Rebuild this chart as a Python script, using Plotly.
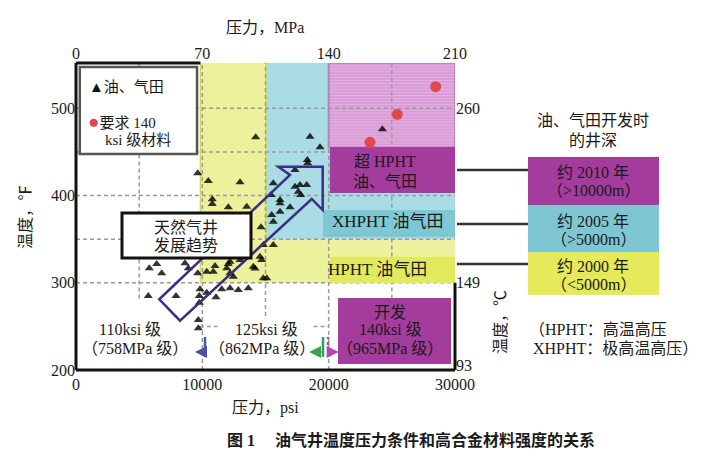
import plotly.graph_objects as go

# ---------------- data ----------------
# oil & gas fields (pressure psi, temperature F)
field_psi = [9634, 10473, 12982, 10789, 10789, 12056, 13513, 14645, 15619, 16149,
             16149, 15436, 16940, 15491, 15619, 16149, 17336, 18310, 18340, 17336,
             17732, 18262, 17598, 17788, 14827, 15619, 14565, 14700, 14170, 14827,
             14225, 18524, 19315, 24250,
             5802, 6388, 6784, 8628, 8889, 9634, 5723, 7916, 9761, 9761, 9682, 9682,
             10346, 10869, 11003, 11930, 12056, 12191, 12191, 12982, 14035, 12452, 15096,
             9816, 10346, 11082, 11534, 12191, 12848, 13640]
field_F = [425.5, 416.7, 415.2, 395.7, 390.3, 386.5, 387.2, 363.6, 414.1, 394.9,
           391.1, 400.6, 386.5, 377.7, 370.0, 381.5, 429.3, 440.8, 437.0, 410.2,
           412.1, 412.1, 404.4, 400.6, 343.3, 343.3, 329.9, 326.1, 316.5, 305.1,
           466.8, 467.5, 455.3, 476.0,
           316.6, 321.5, 310.9, 322.3, 316.6, 310.9, 284.8, 284.8, 284.8, 277.2, 257.3, 247.8,
           312.7, 312.7, 319.2, 316.6, 321.5, 310.9, 324.2, 326.1, 318.4, 307.0, 305.1,
           292.5, 288.6, 283.3, 292.5, 293.7, 291.7, 293.7]
# fields requiring 140 ksi material
req_psi = [28470, 25430, 23270]
req_F = [524.8, 493.2, 461.1]

x_tick_psi = [0, 10000, 20000, 30000]
x_tick_mpa = [0, 70, 140, 210]
y_tick_F = [200, 300, 400, 500]
y2_tick_F = [205, 300, 500]
y2_tick_labels = ["93", "149", "260"]

X_RANGE = [0, 30000]
Y_RANGE = [200, 552]

# trend arrow outline (psi, F)
arrow_psi = [6594, 16940, 16014, 19528, 19528, 18658, 8232]
arrow_F = [281.1, 423.6, 433.1, 433.1, 383.4, 396.1, 256.5]

FONT = "Liberation Serif, Noto Sans CJK SC, serif"
W, H = 707, 465
L, R, T, B = 76, 252, 63, 95
PW, PH = W - L - R, H - T - B


def P(px, py):
    return (px - L) / PW, (H - B - py) / PH


def F2C(f):
    return (f - 32) / 1.8


fig = go.Figure()
fig.add_trace(go.Scatter(x=field_psi, y=field_F, mode="markers",
                         marker=dict(symbol="triangle-up", size=8, color="#000000", opacity=0.8),
                         showlegend=False, hoverinfo="skip"))
fig.add_trace(go.Scatter(x=req_psi, y=req_F, mode="markers",
                         marker=dict(symbol="circle", size=11, color="#E2474C"),
                         showlegend=False, hoverinfo="skip"))
fig.add_trace(go.Scatter(x=[], y=[], xaxis="x2", yaxis="y2", showlegend=False))

shapes = []


def rect(x0, x1, y0, y1, fill, line=None, lw=0, layer="below", ref="data"):
    d = dict(type="rect", x0=x0, x1=x1, y0=y0, y1=y1, fillcolor=fill, layer=layer,
             line=dict(width=lw, color=line or fill))
    if ref == "paper":
        d.update(xref="paper", yref="paper")
    else:
        d.update(xref="x", yref="y")
    shapes.append(d)


def seg(x0, y0, x1, y1, color, w, dash="solid", layer="below", ref="data"):
    d = dict(type="line", x0=x0, y0=y0, x1=x1, y1=y1, layer=layer,
             line=dict(color=color, width=w, dash=dash))
    if ref == "paper":
        d.update(xref="paper", yref="paper")
    else:
        d.update(xref="x", yref="y")
    shapes.append(d)


# coloured regions
rect(9850, 30000, 300, 552, "#EEF19C")
rect(15040, 30000, 350, 552, "#AADCE6")
rect(20000, 30000, 455, 552, "#D99CD6")
# faint horizontal hatching of the pink zone
f = 457.0
while f < 551:
    seg(20000, f, 30000, f, "#E3B3E0", 1)
    f += 3.4
shapes.append(dict(type="rect", x0=20000, x1=30000, y0=455, y1=552, xref="x", yref="y",
                   layer="below", line=dict(color="#C57EC7", width=2)))
seg(9850, 300, 9850, 552, "#D4D85A", 1.5)
seg(15040, 350, 15040, 552, "#D4D85A", 1.5)

# grid lines
GC = "#9A9A9A"
GD = "4px,3px"
for g in [300, 350, 400, 450, 500]:
    seg(0, g, 30000, g, GC, 1.5, GD)
seg(9800, 250, 11200, 250, GC, 1.5, GD)
seg(18800, 250, 20000, 250, GC, 1.5, GD)
seg(5000, 282, 5000, 552, GC, 1.5, GD)
seg(10000, 200, 10000, 552, GC, 1.5, GD)
seg(15000, 262, 15000, 552, GC, 1.5, GD)
seg(20000, 200, 20000, 552, GC, 1.5, GD)
seg(25000, 282, 25000, 552, GC, 1.5, GD)

# label boxes inside plot
rect(20100, 30000, 402.9, 455.7, "#A43C9E")
rect(19553, 30000, 352.5, 383.4, "#7FC7D3")
rect(20100, 30000, 299.7, 329.6, "#E3E95C")
rect(20740, 29685, 206.9, 282.5, "#A43C9E")

# trend arrow
path = "M " + " L ".join(f"{a},{b}" for a, b in zip(arrow_psi, arrow_F)) + " Z"
shapes.append(dict(type="path", path=path, xref="x", yref="y", layer="above",
                   line=dict(color="#3B2F82", width=2.5)))
# trend text box
rect(3641, 13853, 328.4, 380.0, "#FFFFFF", line="#111111", lw=3, layer="above")
# legend box
rect(300, 9580, 447.6, 547.4, "#FFFFFF", line="#555555", lw=2.5, layer="above")

# small grade arrows bars
seg(10212, 214.9, 10212, 237.8, "#4B52A8", 2.5, layer="above")
seg(19553, 214.9, 19553, 237.8, "#3A9F5A", 2.5, layer="above")
seg(19949, 214.9, 19949, 237.8, "#B347B3", 2.5, "dot", layer="above")

# plot borders
seg(0, 0, 0, 1, "#111111", 3, layer="above", ref="paper")
seg(0, 0, 1, 0, "#111111", 3, layer="above", ref="paper")
seg(0, 1, (9850 - X_RANGE[0]) / (X_RANGE[1] - X_RANGE[0]), 1, "#111111", 3, layer="above", ref="paper")
seg(1, 0, 1, (300 - Y_RANGE[0]) / (Y_RANGE[1] - Y_RANGE[0]), "#111111", 3, layer="above", ref="paper")

# right-side legend boxes and connectors
x0p, _ = P(528, 0)
x1p, _ = P(659, 0)
for (ya, yb, col) in [(157, 205, "#A43C9E"), (205, 252, "#7EC6D2"), (252, 295, "#E4EA5A")]:
    rect(x0p, x1p, P(0, yb)[1], P(0, ya)[1], col, ref="paper")
for py in [170, 224, 264]:
    a = P(457, py)
    b = P(528, py)
    seg(a[0], a[1], b[0], b[1], "#333333", 2.5, ref="paper")

ann = []


def txt(x, y, s, size=16, ref="data", xanchor="center", angle=0, bold=False, color="#1a1a1a"):
    if bold:
        s = "<b>" + s + "</b>"
    d = dict(x=x, y=y, text=s, showarrow=False, xanchor=xanchor, yanchor="middle",
             textangle=angle, font=dict(family=FONT, size=size, color=color))
    if ref == "paper":
        d.update(xref="paper", yref="paper")
    else:
        d.update(xref="x", yref="y")
    ann.append(d)


def ptxt(px, py, s, **kw):
    x, y = P(px, py)
    txt(x, y, s, ref="paper", **kw)


# in-plot text
txt(24460, 438.5, "超 HPHT")
txt(24460, 416.7, "油、气田")
txt(24700, 369.7, "XHPHT 油气田", size=17)
txt(23830, 315.8, "HPHT 油气田", size=17)
txt(24857, 266.5, "开发")
txt(24857, 245.9, "140ksi 级")
txt(24857, 225.2, "（965MPa 级）")
txt(4275, 245.9, "110ksi 级")
txt(4670, 225.2, "（758MPa 级）")
txt(15040, 245.9, "125ksi 级")
txt(14724, 225.2, "（862MPa 级）")
txt(8708, 363.9, "天然气井")
txt(8708, 342.2, "发展趋势")
txt(871, 524.5, "▲油、气田", size=15, xanchor="left", color="#111111")
txt(792, 485.5, "<span style='color:#E2474C;font-size:19px'>●</span>要求 140", size=15, xanchor="left")
txt(2137, 463.7, "ksi 级材料", size=15, xanchor="left")

# axis titles & outside text
ptxt(265, 28, "压力，MPa")
ptxt(265, 408, "压力，psi")
ptxt(25, 217, "温度，℉", angle=-90)
ptxt(500, 322, "温度，℃", angle=-90)
ptxt(593, 120, "油、气田开发时")
ptxt(593, 140, "的井深")
ptxt(593, 172, "约 2010 年")
ptxt(593, 190, "（>10000m）")
ptxt(593, 221, "约 2005 年")
ptxt(593, 239, "（>5000m）")
ptxt(593, 266, "约 2000 年")
ptxt(593, 284, "（<5000m）")
ptxt(527, 329, "（HPHT：高温高压", xanchor="left")
ptxt(527, 348, " XHPHT：极高温高压）", xanchor="left")
ptxt(411, 440, "图 1　 油气井温度压力条件和高合金材料强度的关系", size=16, bold=True)

# grade arrows
for (tail, head, col) in [(10212, 9420, "#4B52A8"), (19553, 18450, "#3A9F5A"), (19949, 20800, "#B347B3")]:
    ann.append(dict(x=head, y=220.6, ax=tail, ay=220.6, xref="x", yref="y", axref="x", ayref="y",
                    text="", showarrow=True, arrowhead=2, arrowsize=1.2, arrowwidth=2, arrowcolor=col))

axis_font = dict(family=FONT, size=16, color="#1a1a1a")
fig.update_layout(
    width=W, height=H, margin=dict(l=L, r=R, t=T, b=B),
    paper_bgcolor="white", plot_bgcolor="white",
    showlegend=False,
    xaxis=dict(range=X_RANGE, tickvals=x_tick_psi, ticktext=[str(v) for v in x_tick_psi],
               showgrid=False, zeroline=False, showline=False, ticks="", tickfont=axis_font,
               ticklabelstandoff=3),
    xaxis2=dict(range=[0, 210], overlaying="x", side="top", anchor="y", tickvals=x_tick_mpa,
                showgrid=False, zeroline=False, showline=False, ticks="", tickfont=axis_font),
    yaxis=dict(range=Y_RANGE, tickvals=y_tick_F, showgrid=False, zeroline=False, showline=False,
               ticks="", tickfont=axis_font),
    yaxis2=dict(range=[F2C(Y_RANGE[0]), F2C(Y_RANGE[1])], overlaying="y", side="right", anchor="x",
                tickvals=[F2C(v) for v in y2_tick_F], ticktext=y2_tick_labels,
                showgrid=False, zeroline=False, showline=False, ticks="", tickfont=axis_font),
    shapes=shapes, annotations=ann,
)
fig.write_html("out.html", config={"displayModeBar": False},
               post_script="document.body.style.margin='0px';")
